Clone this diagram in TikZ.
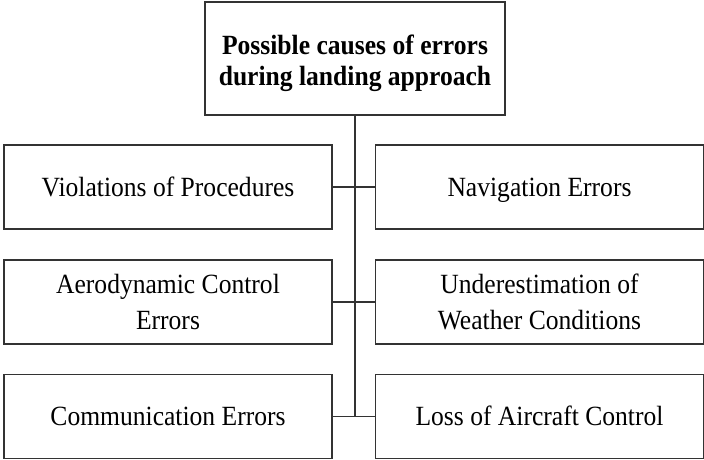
\documentclass[tikz,border=0pt]{standalone}
\usepackage{fontspec}
\setmainfont[FakeStretch=0.92]{Liberation Serif}
\begin{document}
\begin{tikzpicture}[x=1pt,y=-1pt,
  box/.style={draw=black!80, line width=1.6pt, rectangle, align=center, inner sep=0pt,
    minimum width=328pt, minimum height=84pt, font=\fontsize{27.8}{36}\selectfont},
  one/.style={text height=20pt, text depth=2pt},
  topbox/.style={box, minimum width=300pt, minimum height=113pt,
    font=\bfseries\fontsize{27.8}{31}\selectfont},
  link/.style={draw=black!80, line width=1.6pt}]
\useasboundingbox (0,0) rectangle (704,459);
\node[topbox] (top) at (355,58.5) {\rule{0pt}{29pt}Possible causes of errors\\during landing approach};
\node[box,one] (l1) at (168,187) {Violations of Procedures};
\node[box,one] (r1) at (539.5,187) {Navigation Errors};
\node[box] (l2) at (168,302) {Aerodynamic Control\\Errors};
\node[box] (r2) at (539.5,302) {Underestimation of\\Weather Conditions};
\node[box,one] (l3) at (168,416.5) {Communication Errors};
\node[box,one] (r3) at (539.5,416.5) {Loss of Aircraft Control};
\coordinate (j3) at (355,416.5);
\draw[link] (top.south) -- (j3);
\draw[link] (l1.east) -- (r1.west);
\draw[link] (l2.east) -- (r2.west);
\draw[link] (l3.east) -- (r3.west);
\end{tikzpicture}
\end{document}
